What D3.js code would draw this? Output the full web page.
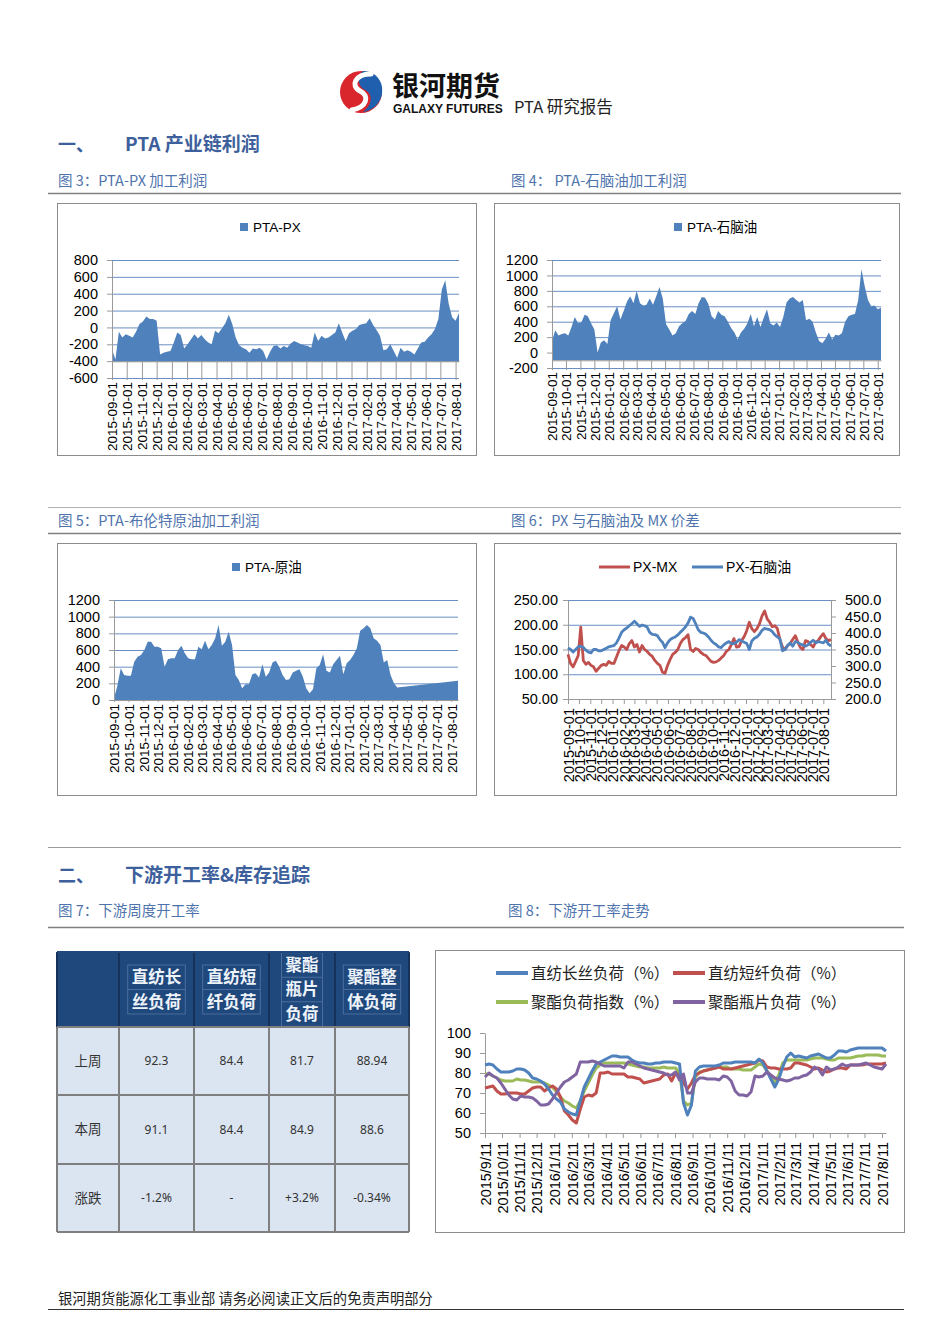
<!DOCTYPE html>
<html>
<head>
<meta charset="utf-8">
<script src="https://cdnjs.cloudflare.com/ajax/libs/d3/7.8.5/d3.min.js"></script>
<style>
  body { margin: 0; background: #fff; }
  svg { display: block; }
</style>
</head>
<body>
<svg id="page" width="950" height="1344"></svg>
<script>
// ---- data ----
var monthTicks = ["2015-09-01","2015-10-01","2015-11-01","2015-12-01","2016-01-01","2016-02-01",
  "2016-03-01","2016-04-01","2016-05-01","2016-06-01","2016-07-01","2016-08-01","2016-09-01",
  "2016-10-01","2016-11-01","2016-12-01","2017-01-01","2017-02-01","2017-03-01","2017-04-01",
  "2017-05-01","2017-06-01","2017-07-01","2017-08-01"];
var weekTicks = ["2015/9/11","2015/10/11","2015/11/11","2015/12/11","2016/1/11","2016/2/11",
  "2016/3/11","2016/4/11","2016/5/11","2016/6/11","2016/7/11","2016/8/11","2016/9/11",
  "2016/10/11","2016/11/11","2016/12/11","2017/1/11","2017/2/11","2017/3/11","2017/4/11",
  "2017/5/11","2017/6/11","2017/7/11","2017/8/11"];

// weekly samples starting 2015-09-01
var ptaPx = [-260,-380,-50,-120,-80,-100,-120,-50,40,70,
  130,100,100,80,-320,-300,-290,-280,-180,-60,
  -90,-250,-200,-140,-80,-130,-90,-140,-180,-200,
  -40,-70,-10,50,150,40,-120,-210,-240,-260,
  -300,-250,-260,-240,-280,-380,-290,-220,-210,-250,
  -220,-240,-190,-160,-180,-200,-210,-220,-240,-60,
  -160,-100,-130,-120,-90,-60,50,-60,-160,-70,
  -40,-20,30,40,50,110,30,-30,-100,-270,
  -260,-200,-280,-360,-240,-290,-270,-290,-320,-250,
  -180,-170,-120,-80,-20,100,450,560,280,120,
  80,170];
var ptaNaphtha = [150,290,220,240,250,220,330,460,380,390,
  490,470,380,300,0,130,160,110,420,510,
  600,430,540,660,730,640,800,640,610,620,
  700,620,730,850,700,370,300,220,250,340,
  380,410,500,540,500,640,720,710,630,470,
  430,540,490,470,400,320,260,170,260,310,
  380,500,340,460,330,450,560,380,350,390,
  330,460,650,700,720,680,650,680,420,440,
  400,260,150,120,180,260,170,230,220,250,
  400,470,490,500,680,1080,860,680,600,610,
  560,580];
var ptaCrude = [20,170,380,300,290,290,460,520,540,600,
  700,700,640,640,620,400,490,500,500,600,
  650,560,500,490,490,640,610,710,610,660,
  740,900,650,700,820,660,300,240,140,190,
  190,310,320,270,430,280,330,450,470,400,
  300,240,250,330,350,370,280,140,80,130,
  380,420,550,350,330,430,480,530,310,440,
  480,540,620,830,860,900,860,740,710,660,
  450,480,300,200,150,null,null,null,null,null,
  null,null,null,null,null,null,null,null,null,null,
  null,null,230];
var pxMx = [140,122,115,126,138,195,128,120,124,118,
  115,106,112,118,120,118,126,122,122,135,
  148,158,155,150,162,168,155,160,145,158,
  150,146,140,136,128,122,118,104,102,118,
  130,140,144,150,162,170,174,180,150,146,
  152,150,144,140,138,132,126,124,125,128,
  133,138,146,150,160,172,155,156,168,176,
  188,205,192,186,192,202,218,228,212,205,
  196,198,192,170,155,150,158,162,170,178,
  165,154,150,168,166,160,155,165,168,176,
  182,172,168,170];
var pxNaphtha = [355,350,342,350,358,360,356,348,342,340,
  350,350,346,346,350,354,358,360,362,370,
  385,402,410,415,422,428,436,428,420,424,
  422,418,402,396,395,392,380,372,356,370,
  380,385,388,394,402,410,418,430,448,444,
  428,410,402,400,396,388,378,370,365,358,
  356,364,370,374,368,368,372,380,376,372,
  368,350,376,384,388,396,408,414,412,410,
  404,394,388,382,346,350,362,370,360,374,
  372,366,364,360,364,372,378,370,374,372,
  370,378,366,360];

// weekly downstream load, starting 2015-09-11
var filamentLoad = [84,84.5,84,82,80.5,80.5,80.5,81,82,82,
  81.5,80,77.5,77,76,74.5,72,69,67,65.5,
  62,60.5,59.5,59,66,73,77,81,84.5,85.5,
  86.5,87.5,88.5,88.5,88,88,88,86.5,85.5,85,
  85,84.5,84.5,85,85,85.5,85.5,85.5,85,84.5,
  65,59,64,81,83,83.5,83.5,83.5,83.5,84,
  85,85,85,85.5,85.5,85.5,85.5,85.5,85,87,
  85,81,77,73,77,83,88,90,88,88.5,
  88,87.5,88.5,89,89.5,88.5,87.5,87.5,89,91,
  91,90.5,91.5,92,92.5,92.5,92.5,92.5,92.5,92.5,
  92.5,91];
var stapleLoad = [72.5,73,73.5,71,69.5,69.5,70,70,70,69.5,
  69.5,71,72.5,73,73,71,72.5,73.5,72,68,
  61,59,56.5,55,62,68,69,68.5,70,80,
  80,80.5,79.5,79.5,79.5,79.5,78,78,77.5,77,
  75,75.5,76,76.5,77,79,79.5,76,80,79,
  75,72,75,79,80,81,81.5,82,82.5,83,
  82,82,82,82.5,83,83.5,84,84.5,85,86.5,
  86,83,82.5,82.5,82,82,82,82.5,85,85,
  84.5,84,83,82,82.5,81.5,80.5,81,82,82.5,
  82.5,82,84,84,84,84,84.5,84.5,84.5,84.5,
  84.5,85];
var polyesterLoad = [79.5,79.5,78.5,77.5,76.5,76,76,76,77,76.5,
  76.5,76,75.5,75.5,75.5,75,74,73,70.5,68,
  66,65,63.5,62.5,66,71,75,79,82.5,84,
  85,85,85,85,85,85,84.5,84,83.5,83,
  83,82.5,82.5,82.5,82.5,83,82.5,82.5,82.5,80,
  66,64,65,78,80.5,81,81.5,82,82.5,83,
  83,83,82,82,82,81.5,81.5,81.5,83,84.5,
  84,81,78.5,75.5,79,85,86.5,86.5,86.5,86.5,
  86.5,86.5,87,87.5,87.5,87.5,87,86.5,86.5,87.5,
  87.5,87.5,87.5,88,88.5,88.5,89,89,89,89,
  88.5,88.5];
var bottleLoad = [78,80,78.5,77.5,75,72,69,67,66.5,68.5,
  68,68,67.5,66,64,64,64.5,67,70,73,
  75.5,76.5,78,79.5,85.5,85.5,85.5,86,85.5,84.5,
  83.5,83.5,83.5,83.5,83.5,82.5,85.5,85.5,84.5,83.5,
  82.5,82,81.5,81,80.5,80,79,79,80.5,76.5,
  79.5,70,70,75.5,77.5,77.5,77,77,77,76.5,
  78.5,78,76,71,69,69,68.5,70.5,78.5,78,
  78.5,80.5,79,77.5,77,76.5,76,76.5,77.5,77.5,
  78.5,79,80.5,83,82,79,83,81.5,82,83,
  84.5,83.5,84,84,84,84.5,85,84,83,82.5,
  82,84.5];

// weekly table
var tableHeads = [["直纺长","丝负荷"],["直纺短","纤负荷"],["聚酯","瓶片","负荷"],["聚酯整","体负荷"]];
var tableRowNames = ["上周","本周","涨跌"];
var lastWeek = ["92.3","84.4","81.7","88.94"];
var thisWeek = ["91.1","84.4","84.9","88.6"];
var weekChange = ["-1.2%","-","+3.2%","-0.34%"];

// ---- drawing ----
var LAT = '"Liberation Sans", Arial, "Noto Sans CJK SC", sans-serif';
var CJK = '"Noto Sans CJK SC", "Liberation Sans", sans-serif';
var blue = "#4F81BD", red = "#C0504D", green = "#9BBB59", purple = "#8064A2";
var gridColor = "#6a8fc4", axisColor = "#9a9a9a", titleBlue = "#3d5f9b", capBlue = "#4f74ad";
var plain = function(d) { return String(d); };

var svg = d3.select("#page");
var parseDay = d3.timeParse("%Y-%m-%d");
var parseSlash = d3.timeParse("%Y/%m/%d");

function weekDates(start, n) {
    return d3.range(n).map(function(i) { return d3.timeDay.offset(start, 7 * i); });
}

function hline(x1, x2, y, color, w) {
    svg.append("line").attr("x1", x1).attr("x2", x2).attr("y1", y).attr("y2", y)
        .attr("stroke", color).attr("stroke-width", w);
}

function frame(b) {
    svg.append("rect").attr("x", b[0] + 0.5).attr("y", b[1] + 0.5)
        .attr("width", b[2]).attr("height", b[3])
        .attr("fill", "#fff").attr("stroke", "#8c8c8c");
}

function styleAxis(ax, size) {
    ax.attr("font-family", LAT).attr("font-size", size);
    ax.select(".domain").attr("stroke", axisColor);
    ax.selectAll(".tick line").attr("stroke", axisColor);
    ax.selectAll(".tick text").attr("fill", "#000");
}

function monthAxis(g, x, yPos, tickLen, labelTop, size) {
    var ax = g.append("g").attr("transform", "translate(0," + yPos + ")")
        .call(d3.axisBottom(x).tickValues(monthTicks.map(parseDay)).tickSize(tickLen).tickSizeOuter(0)
            .tickFormat(function(d, i) { return monthTicks[i]; }));
    styleAxis(ax, size);
    ax.selectAll(".tick text")
        .attr("transform", "rotate(-90)")
        .attr("text-anchor", "end")
        .attr("x", -(labelTop - yPos)).attr("y", 0).attr("dy", "0.36em");
}

// area charts (fig 3, 4, 5)
function areaChart(o) {
    frame(o.box);
    var g = svg.append("g");
    var dates = weekDates(parseDay(monthTicks[0]), o.values.length);
    var pts = o.values.map(function(v, i) { return {d: dates[i], v: v}; })
        .filter(function(p) { return p.v !== null; });

    var x = d3.scaleTime().domain([dates[0], dates[dates.length - 1]]).range([o.left, o.right]);
    var y = d3.scaleLinear().domain(o.yDomain).range([o.bottom, o.top]);
    var ticks = d3.range(o.yDomain[0], o.yDomain[1] + 1, o.yStep);

    var grid = g.append("g").attr("transform", "translate(" + o.left + ",0)")
        .call(d3.axisLeft(y).tickValues(ticks).tickSize(-(o.right - o.left)).tickFormat(""));
    grid.select(".domain").remove();
    grid.selectAll(".tick line").attr("stroke", gridColor);

    g.append("path").datum(pts)
        .attr("fill", blue)
        .attr("d", d3.area().x(function(p) { return x(p.d); })
            .y0(y(o.base)).y1(function(p) { return y(p.v); }));

    var yAx = g.append("g").attr("transform", "translate(" + o.left + ",0)")
        .call(d3.axisLeft(y).tickValues(ticks).tickSize(5).tickSizeOuter(0).tickPadding(9).tickFormat(plain));
    styleAxis(yAx, 14.5);

    monthAxis(g, x, y(o.base), o.bottom - y(o.base) + 2, o.bottom + 4, 13.5);

    // legend
    g.append("rect").attr("x", o.legend[0]).attr("y", o.legend[1] - 4)
        .attr("width", 8).attr("height", 8).attr("fill", blue);
    g.append("text").attr("x", o.legend[0] + 13).attr("y", o.legend[1])
        .attr("dy", "0.35em").attr("font-family", LAT).attr("font-size", 13.5)
        .text(o.name);
}

// ---- header ----
var logo = svg.append("g").attr("transform", "translate(361,92)");
logo.append("ellipse").attr("rx", 21).attr("ry", 21).attr("fill", "#d9262c");
logo.append("path")
    .attr("d", "M2,-21 C15,-21 23,-10 21,2 C19,13 10,19 2,20 C12,12 12,2 4,-2 C-4,-6 -4,-17 2,-21 Z")
    .attr("fill", "#1f5fae");
logo.append("path")
    .attr("d", "M10,-18 C-6,-18 -11,-6 -1,-1 C9,4 6,15 -9,18")
    .attr("fill", "none").attr("stroke", "#fff").attr("stroke-width", 5).attr("stroke-linecap", "round");

svg.append("text").attr("x", 392).attr("y", 96).attr("font-family", CJK)
    .attr("font-size", 27).attr("font-weight", 700).attr("fill", "#111").text("银河期货");
svg.append("text").attr("x", 393).attr("y", 113).attr("font-family", LAT)
    .attr("font-size", 12).attr("font-weight", 700).attr("fill", "#111").text("GALAXY FUTURES");
svg.append("text").attr("x", 514).attr("y", 113).attr("font-family", CJK)
    .attr("font-size", 16.5).attr("fill", "#222").text("PTA 研究报告");

// ---- section 1 ----
function sectionTitle(y, num, title) {
    svg.append("text").attr("x", 58).attr("y", y).attr("font-family", CJK).attr("font-size", 18)
        .attr("font-weight", 700).attr("fill", titleBlue).text(num);
    svg.append("text").attr("x", 125).attr("y", y).attr("font-family", CJK).attr("font-size", 19)
        .attr("font-weight", 700).attr("fill", titleBlue).text(title);
}
function caption(x, y, t) {
    svg.append("text").attr("x", x).attr("y", y).attr("font-family", CJK).attr("font-size", 14.5)
        .attr("fill", capBlue).text(t);
}

sectionTitle(151, "一、", "PTA 产业链利润");
caption(58, 186, "图 3：PTA-PX 加工利润");
caption(511, 186, "图 4：  PTA-石脑油加工利润");
hline(48, 901, 193.5, "#808080", 1.5);

areaChart({box: [57, 203, 419, 252], left: 112, right: 459, top: 260, bottom: 378,
    yDomain: [-600, 800], yStep: 200, base: -400, values: ptaPx, name: "PTA-PX", legend: [240, 227]});
areaChart({box: [494, 203, 405, 252], left: 552, right: 881, top: 260, bottom: 368,
    yDomain: [-200, 1200], yStep: 200, base: -100, values: ptaNaphtha, name: "PTA-石脑油", legend: [674, 227]});

hline(48, 901, 507.5, "#b0b0b0", 1);
caption(58, 526, "图 5：PTA-布伦特原油加工利润");
caption(511, 526, "图 6：PX 与石脑油及 MX 价差");
hline(48, 901, 533.5, "#808080", 1.5);

areaChart({box: [57, 543, 419, 252], left: 114, right: 458, top: 600, bottom: 700,
    yDomain: [0, 1200], yStep: 200, base: 0, values: ptaCrude, name: "PTA-原油", legend: [232, 567]});

// fig 6: two lines, two axes
(function() {
    frame([494, 543, 402, 252]);
    var g = svg.append("g");
    var left = 568, right = 831, top = 600, bottom = 699;
    var dates = weekDates(parseDay(monthTicks[0]), pxMx.length);
    var x = d3.scaleTime().domain([dates[0], dates[dates.length - 1]]).range([left, right]);
    var yL = d3.scaleLinear().domain([50, 250]).range([bottom, top]);
    var yR = d3.scaleLinear().domain([200, 500]).range([bottom, top]);
    var ticksL = d3.range(50, 251, 50), ticksR = d3.range(200, 501, 50);

    var grid = g.append("g").attr("transform", "translate(" + left + ",0)")
        .call(d3.axisLeft(yL).tickValues(ticksL.slice(1)).tickSize(-(right - left)).tickFormat(""));
    grid.select(".domain").remove();
    grid.selectAll(".tick line").attr("stroke", gridColor);

    var axL = g.append("g").attr("transform", "translate(" + left + ",0)")
        .call(d3.axisLeft(yL).tickValues(ticksL).tickSize(5).tickSizeOuter(0).tickPadding(5)
            .tickFormat(d3.format(".2f")));
    styleAxis(axL, 14.5);
    var axR = g.append("g").attr("transform", "translate(" + right + ",0)")
        .call(d3.axisRight(yR).tickValues(ticksR).tickSize(5).tickSizeOuter(0).tickPadding(9)
            .tickFormat(d3.format(".1f")));
    styleAxis(axR, 14.5);

    monthAxis(g, x, bottom, 5, bottom + 9, 14.5);

    g.append("path").datum(pxMx).attr("fill", "none").attr("stroke", red).attr("stroke-width", 2.8)
        .attr("stroke-linejoin", "round")
        .attr("d", d3.line().x(function(v, i) { return x(dates[i]); }).y(function(v) { return yL(v); }));
    g.append("path").datum(pxNaphtha).attr("fill", "none").attr("stroke", blue).attr("stroke-width", 2.8)
        .attr("stroke-linejoin", "round")
        .attr("d", d3.line().x(function(v, i) { return x(dates[i]); }).y(function(v) { return yR(v); }));

    var leg = [{c: red, t: "PX-MX", x: 599}, {c: blue, t: "PX-石脑油", x: 692}];
    leg.forEach(function(l) {
        g.append("line").attr("x1", l.x).attr("x2", l.x + 31).attr("y1", 567).attr("y2", 567)
            .attr("stroke", l.c).attr("stroke-width", 3);
        g.append("text").attr("x", l.x + 34).attr("y", 567).attr("dy", "0.35em")
            .attr("font-family", LAT).attr("font-size", 14).text(l.t);
    });
})();

// ---- section 2 ----
hline(48, 901, 847.5, "#9a9a9a", 1);
sectionTitle(882, "二、", "下游开工率&库存追踪");
caption(58, 916, "图 7：下游周度开工率");
caption(508, 916, "图 8：下游开工率走势");
hline(48, 904, 927.5, "#808080", 1.5);

// table (fig 7)
(function() {
    var colX = [57, 119, 194, 269, 335, 409];
    var rowY = [952, 1027, 1095, 1164, 1232];
    var g = svg.append("g");
    g.append("rect").attr("x", colX[0]).attr("y", rowY[0]).attr("width", colX[5] - colX[0])
        .attr("height", rowY[1] - rowY[0]).attr("fill", "#1f487c");
    g.append("rect").attr("x", colX[0]).attr("y", rowY[1]).attr("width", colX[5] - colX[0])
        .attr("height", rowY[4] - rowY[1]).attr("fill", "#dbe5f1");

    // header
    tableHeads.forEach(function(lines, c) {
        var cx = (colX[c + 1] + colX[c + 2]) / 2;
        var cy = (rowY[0] + rowY[1]) / 2;
        var lh = 24.5;
        var y0 = cy - (lines.length - 1) * lh / 2;
        var w = lines[0].length * 16.5 + 8;
        g.append("rect").attr("x", cx - w / 2).attr("y", y0 - lh / 2).attr("width", w)
            .attr("height", lh * lines.length).attr("fill", "none").attr("stroke", "#5677a6").attr("stroke-width", 0.8);
        lines.forEach(function(t, k) {
            if (k > 0) {
                g.append("line").attr("x1", cx - w / 2).attr("x2", cx + w / 2)
                    .attr("y1", y0 + (k - 0.5) * lh).attr("y2", y0 + (k - 0.5) * lh)
                    .attr("stroke", "#5677a6").attr("stroke-width", 0.8);
            }
            g.append("text").attr("x", cx).attr("y", y0 + k * lh).attr("dy", "0.36em")
                .attr("text-anchor", "middle").attr("font-family", CJK).attr("font-size", 16.5)
                .attr("font-weight", 700).attr("fill", "#eef3fa").text(t);
        });
    });

    // body
    var rows = [lastWeek, thisWeek, weekChange];
    rows.forEach(function(vals, r) {
        var cy = (rowY[r + 1] + rowY[r + 2]) / 2;
        g.append("text").attr("x", (colX[0] + colX[1]) / 2).attr("y", cy).attr("dy", "0.36em")
            .attr("text-anchor", "middle").attr("font-family", CJK).attr("font-size", 13.5)
            .attr("fill", "#333").text(tableRowNames[r]);
        vals.forEach(function(v, c) {
            g.append("text").attr("x", (colX[c + 1] + colX[c + 2]) / 2).attr("y", cy).attr("dy", "0.36em")
                .attr("text-anchor", "middle").attr("font-family", '"Noto Sans", sans-serif')
                .attr("font-size", 12).attr("fill", "#333").text(v);
        });
    });

    // borders
    colX.forEach(function(x, i) {
        g.append("line").attr("x1", x).attr("x2", x).attr("y1", rowY[0]).attr("y2", rowY[1])
            .attr("stroke", "#16315a").attr("stroke-width", 2);
        g.append("line").attr("x1", x).attr("x2", x).attr("y1", rowY[1]).attr("y2", rowY[4])
            .attr("stroke", "#7f7f7f").attr("stroke-width", 2);
    });
    rowY.forEach(function(y, i) {
        g.append("line").attr("x1", colX[0]).attr("x2", colX[5]).attr("y1", y).attr("y2", y)
            .attr("stroke", i === 0 ? "#1f487c" : "#7f7f7f").attr("stroke-width", 2);
    });
})();

// fig 8: downstream load lines
(function() {
    frame([435, 950, 469, 282]);
    var g = svg.append("g");
    var left = 485, right = 886, top = 1033, bottom = 1133;
    var dates = weekDates(parseSlash(weekTicks[0]), filamentLoad.length);
    var x = d3.scaleTime().domain([dates[0], dates[dates.length - 1]]).range([left, right]);
    var y = d3.scaleLinear().domain([50, 100]).range([bottom, top]);

    var yAx = g.append("g").attr("transform", "translate(" + left + ",0)")
        .call(d3.axisLeft(y).tickValues(d3.range(50, 101, 10)).tickSize(5).tickSizeOuter(0).tickPadding(9));
    styleAxis(yAx, 14.5);

    var xAx = g.append("g").attr("transform", "translate(0," + bottom + ")")
        .call(d3.axisBottom(x).tickValues(weekTicks.map(parseSlash)).tickSize(5).tickSizeOuter(0)
            .tickFormat(function(d, i) { return weekTicks[i]; }));
    styleAxis(xAx, 14.5);
    xAx.selectAll(".tick text").attr("transform", "rotate(-90)").attr("text-anchor", "end")
        .attr("x", -9).attr("y", 0).attr("dy", "0.36em");

    var series = [
        {v: filamentLoad, c: blue, t: "直纺长丝负荷（%）", lx: 496, ly: 973},
        {v: stapleLoad, c: red, t: "直纺短纤负荷（%）", lx: 673, ly: 973},
        {v: polyesterLoad, c: green, t: "聚酯负荷指数（%）", lx: 496, ly: 1002},
        {v: bottleLoad, c: purple, t: "聚酯瓶片负荷（%）", lx: 673, ly: 1002}
    ];
    var line = d3.line().x(function(v, i) { return x(dates[i]); }).y(function(v) { return y(v); });
    [series[2], series[1], series[0], series[3]].forEach(function(s) {
        g.append("path").datum(s.v).attr("fill", "none").attr("stroke", s.c).attr("stroke-width", 3)
            .attr("stroke-linejoin", "round").attr("d", line);
    });
    series.forEach(function(s) {
        g.append("line").attr("x1", s.lx).attr("x2", s.lx + 32).attr("y1", s.ly).attr("y2", s.ly)
            .attr("stroke", s.c).attr("stroke-width", 4);
        g.append("text").attr("x", s.lx + 35).attr("y", s.ly).attr("dy", "0.36em")
            .attr("font-family", CJK).attr("font-size", 15.5).attr("fill", "#222").text(s.t);
    });
})();

// ---- footer ----
svg.append("text").attr("x", 58).attr("y", 1304).attr("font-family", CJK).attr("font-size", 14.3)
    .attr("fill", "#222").text("银河期货能源化工事业部  请务必阅读正文后的免责声明部分");
hline(48, 904, 1309.5, "#333", 1);
</script>
</body>
</html>
